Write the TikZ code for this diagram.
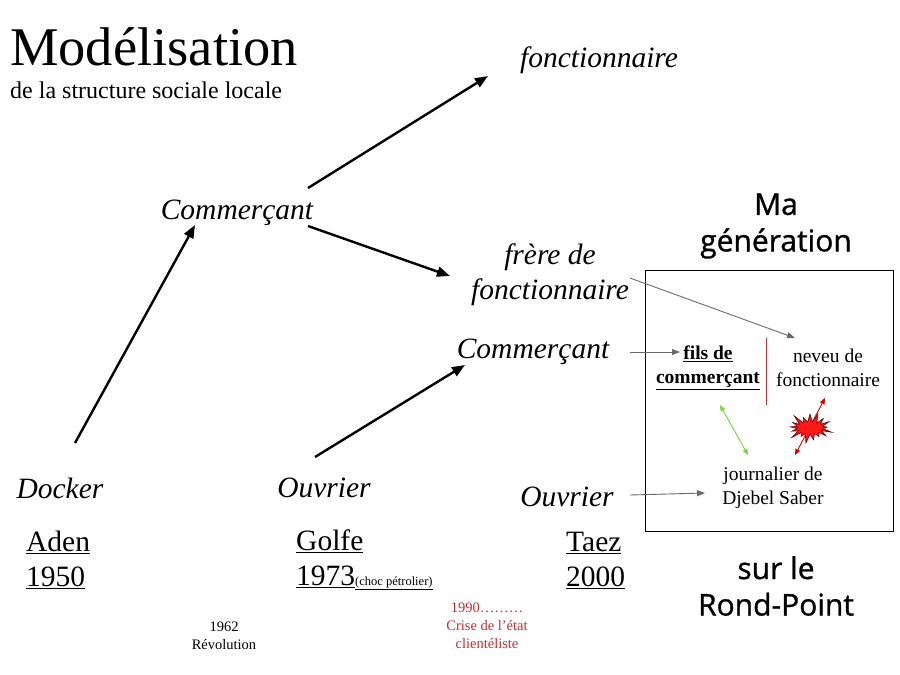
\documentclass[tikz,border=0pt]{standalone}
\usepackage{fontspec}
\setmainfont{Liberation Serif}
\newfontfamily\sansgen{Open Sans}[FakeBold=1.0]
\usetikzlibrary{arrows.meta, calc, shapes.symbols}

\definecolor{rougecrise}{RGB}{200,45,45}
\definecolor{vertlien}{RGB}{120,215,60}
\definecolor{grisfleche}{RGB}{105,105,105}

\begin{document}
\begin{tikzpicture}[
    x=1pt, y=-1pt,
    % Node styles
    role/.style={inner sep=2pt, align=center,
        font=\fontsize{29.5}{35}\selectfont\itshape},
    lieu/.style={inner sep=2pt, align=left, anchor=west,
        font=\fontsize{29.5}{35}\selectfont},
    petit/.style={inner sep=2pt, align=center,
        font=\fontsize{14.5}{18}\selectfont},
    dedans/.style={inner sep=2pt, align=center,
        font=\fontsize{19.5}{24}\selectfont},
    bandeau/.style={inner sep=2pt, align=center,
        font=\sansgen\fontsize{30}{36.5}\selectfont},
    fleche/.style={-{Triangle[length=13pt, width=10pt]}, line width=2.4pt},
    fin/.style={-{Triangle[length=8pt, width=6pt]}, line width=0.9pt,
        color=grisfleche},
    double/.style={{Triangle[length=6pt, width=5pt]}-{Triangle[length=6pt, width=5pt]},
        line width=0.9pt, color=#1},
]
\useasboundingbox (0,0) rectangle (900,675);

% Title
\node[anchor=base west, inner sep=0pt, font=\fontsize{54.5}{60}\selectfont]
    (titre) at (10,65) {Modélisation};
\node[anchor=base west, inner sep=0pt, font=\fontsize{24}{28}\selectfont]
    (soustitre) at (10,98) {de la structure sociale locale};

% Trajectories
\node[role] (docker) at (60,488) {Docker};
\node[role] (comm1) at (237,213) {Commerçant};
\node[role] (fonct) at (599,60) {fonctionnaire};
\node[role] (frere) at (550,275) {frère de\\fonctionnaire};
\node[role] (ouvrier1) at (324,488) {Ouvrier};
\node[role] (comm2) at (533,352) {Commerçant};
\node[role] (ouvrier2) at (567,497) {Ouvrier};

\draw[fleche] ($(docker)+(15,-45)$) -- ($(comm1)+(-42,12)$);
\draw[fleche] ($(comm1)+(71,-25)$) -- ($(fonct)+(-111,16)$);
\draw[fleche] ($(comm1)+(71,13)$) -- ($(frere)+(-100,1)$);
\draw[fleche] ($(ouvrier1)+(-9,-31)$) -- ($(comm2)+(-68,13)$);

% Places and dates
\node[lieu] (aden) at (24,560) {\underline{Aden}\\\underline{1950}};
\node[lieu] (golfe) at (294,560) {\underline{Golfe}\\\underline{1973}{\fontsize{12.5}{14}\selectfont\underline{(choc pétrolier)}}};
\node[lieu] (taez) at (564,560) {\underline{Taez}\\\underline{2000}};

\node[petit] (revolution) at (224,636) {1962\\Révolution};
\node[petit, text=rougecrise] (crise) at (487,626) {1990………\\Crise de l’état\\clientéliste};

% My generation
\node[bandeau] (ma) at (776,226) {Ma\\génération};
\node[bandeau] (rond) at (776,586) {sur le\\Rond-Point};
\node[draw, line width=0.8pt, minimum width=248pt, minimum height=261pt]
    (cadre) at (769,400.5) {};

\node[dedans, font=\fontsize{19.5}{24}\selectfont\bfseries] (fils) at (708,368)
    {\underline{fils de}\\\underline{commerçant}};
\node[dedans] (neveu) at (828,368) {neveu de\\fonctionnaire};
\node[dedans] (journalier) at (773,488) {journalier de\\Djebel Saber};

\draw[rougecrise, line width=0.9pt] ($(fils)+(58,-30)$) -- ($(fils)+(58,37)$);

\draw[fin] ($(comm2)+(97,0)$) -- ($(fils)+(-28,-16)$);
\draw[fin] ($(frere)+(80,3)$) -- ($(neveu)+(-33,-30)$);
\draw[fin] ($(ouvrier2)+(63,-2)$) -- ($(journalier)+(-68,5)$);

\draw[double=vertlien] ($(fils)+(12,37)$) -- ($(journalier)+(-25,-33)$);
\draw[double=red!85!black] ($(journalier)+(22,-33)$) -- ($(neveu)+(-3,30)$);

\node[starburst, fill=red!90, draw=red!40!black, line width=0.6pt,
    minimum width=48pt, minimum height=34pt, inner sep=0pt,
    starburst point height=11pt] (boum) at (810,428) {};

\end{tikzpicture}
\end{document}
